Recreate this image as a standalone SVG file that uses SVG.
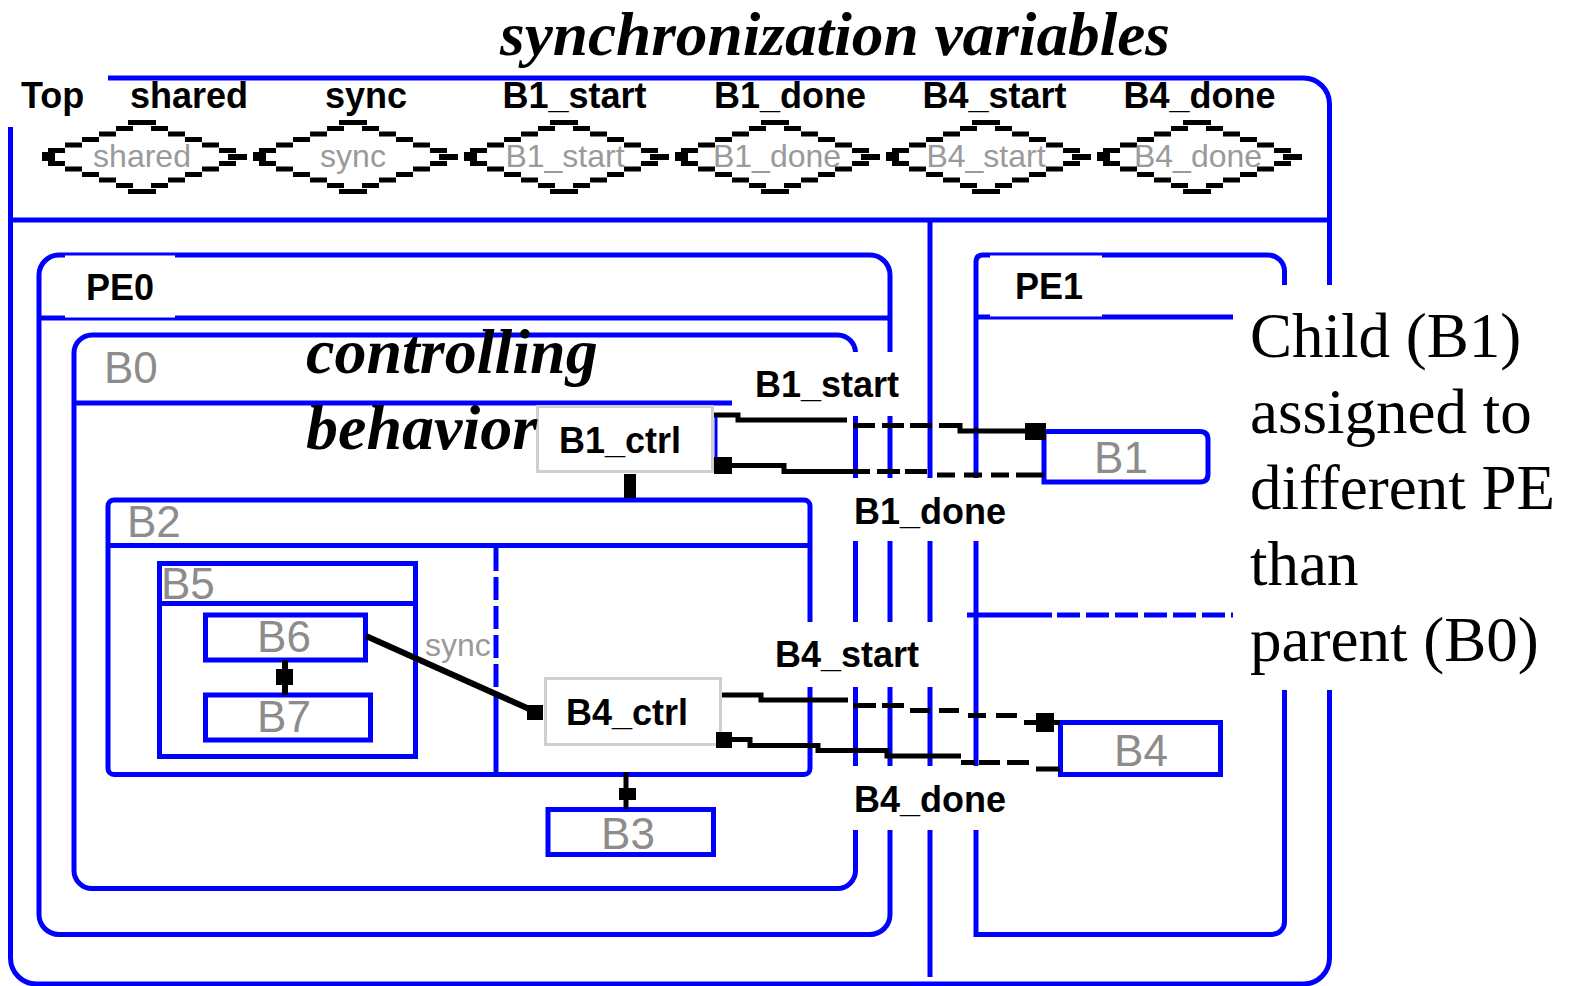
<svg xmlns="http://www.w3.org/2000/svg" width="1574" height="986" viewBox="0 0 1574 986">
<defs>
<style>
.frame{fill:none;stroke:#0000ff;stroke-width:5}
.dash{fill:none;stroke:#0000ff;stroke-width:5;stroke-dasharray:23 6}
.wire{fill:none;stroke:#000;stroke-width:5}
.thick{fill:none;stroke:#000;stroke-width:6}
.blob{fill:#000}
.ctrl{fill:#fff;stroke:#d0d0d0;stroke-width:3}
.bg{fill:#fff}
.lbl{font-family:"Liberation Sans",Arial,sans-serif;font-weight:bold;font-size:36px;fill:#000}
.gray{font-family:"Liberation Sans",Arial,sans-serif;font-size:44px;fill:#8c8c8c}
.vname{font-family:"Liberation Sans",Arial,sans-serif;font-size:32px;fill:#9a9a9a;text-anchor:middle}
.small{font-family:"Liberation Sans",Arial,sans-serif;font-size:32px;fill:#9a9a9a}
.note{font-family:"Liberation Serif","Times New Roman",serif;font-size:63px;fill:#000}
.emph{font-family:"Liberation Serif","Times New Roman",serif;font-weight:bold;font-style:italic;font-size:64px;fill:#000}
.title{font-family:"Liberation Serif","Times New Roman",serif;font-weight:bold;font-style:italic;font-size:61px;fill:#000}
.mid{text-anchor:middle}
</style>
<!-- shared variable symbol: stair-stepped diamond centred on 0,0 -->
<g id="syncvar">
<path class="wire" d="M-14,-34.5H14M-26,-28.5H-9M-43,-23H-26M-60,-17.5H-43M-77,-12H-60M-94,-6.5H-77M-94,6.5H-77M-77,12H-60M-60,17.5H-43M-43,23H-26M-26,28.5H-9M-14,34.5H14M9,-28.5H26M26,-23H43M43,-17.5H60M60,-12H77M77,-6.5H94M77,6.5H94M60,12H77M43,17.5H60M26,23H43M9,28.5H26"/>
<rect class="blob" x="-100" y="-5" width="13" height="9"/>
<rect class="blob" x="86" y="-3" width="19" height="6"/>
</g>
</defs>
<rect width="1574" height="986" fill="#fff"/>

<g id="title">
<text class="title" x="500" y="55" textLength="670" lengthAdjust="spacingAndGlyphs">synchronization variables</text>
</g>

<g id="Top">
<path class="frame" d="M10.5,127V958A26,26 0 0 0 36.5,984H1303.5A26,26 0 0 0 1329.5,958V104A26,26 0 0 0 1303.5,78H108"/>
<path class="frame" d="M10.5,220H1329.5M930,220V977"/>
<text class="lbl" x="21" y="108">Top</text>
</g>

<g id="variables">
<g id="var-shared"><use href="#syncvar" x="142" y="157"/><text class="vname" x="142" y="167">shared</text><text class="lbl mid" x="189" y="108">shared</text></g>
<g id="var-sync"><use href="#syncvar" x="353" y="157"/><text class="vname" x="353" y="167">sync</text><text class="lbl mid" x="366" y="108">sync</text></g>
<g id="var-B1_start"><use href="#syncvar" x="564" y="157"/><text class="vname" x="565" y="167">B1_start</text><text class="lbl mid" x="574.5" y="108">B1_start</text></g>
<g id="var-B1_done"><use href="#syncvar" x="775" y="157"/><text class="vname" x="777" y="167">B1_done</text><text class="lbl mid" x="790" y="108">B1_done</text></g>
<g id="var-B4_start"><use href="#syncvar" x="986" y="157"/><text class="vname" x="986" y="167">B4_start</text><text class="lbl mid" x="994.5" y="108">B4_start</text></g>
<g id="var-B4_done"><use href="#syncvar" x="1197" y="157"/><text class="vname" x="1198" y="167">B4_done</text><text class="lbl mid" x="1199.5" y="108">B4_done</text></g>
</g>

<g id="PE0">
<rect class="frame" x="39" y="255" width="851" height="679.5" rx="20"/>
<path class="frame" d="M39,318H890"/>
<rect class="bg" x="65" y="255.5" width="110" height="62"/>
<text class="lbl" x="86" y="300">PE0</text>
</g>

<g id="B0">
<rect class="frame" x="74" y="335" width="781.5" height="553.5" rx="18"/>
<path class="frame" d="M74,403H855.5"/>
<text class="gray" x="104" y="383">B0</text>
</g>

<g id="B2">
<rect class="frame" x="108" y="500" width="702" height="274.5" rx="6"/>
<path class="frame" d="M108,545.5H810M496,697V774.5"/>
<path class="dash" d="M496,548V697"/>
<text class="gray" x="127" y="537">B2</text>
</g>

<g id="B5">
<rect class="frame" x="159.5" y="563.5" width="256" height="193"/>
<path class="frame" d="M159.5,603.5H415.5"/>
<text class="gray" x="161" y="599">B5</text>
</g>

<g id="B6">
<rect class="frame" x="205.5" y="615" width="160" height="45"/>
<text class="gray mid" x="284" y="652">B6</text>
</g>

<g id="B7">
<rect class="frame" x="205.5" y="695" width="165" height="45"/>
<text class="gray mid" x="284" y="732">B7</text>
</g>

<g id="B3">
<rect class="frame" x="548" y="809.5" width="165.5" height="45"/>
<text class="gray mid" x="628" y="849">B3</text>
</g>

<g id="B1_ctrl">
<rect class="ctrl" x="537.5" y="406.5" width="175" height="65"/>
<path d="M716,417V463" stroke="#0000ff" stroke-width="3"/>
<text class="lbl" x="559" y="453">B1_ctrl</text>
</g>

<g id="B4_ctrl">
<rect class="ctrl" x="545.5" y="678.5" width="175" height="66"/>
<text class="lbl" x="566" y="725">B4_ctrl</text>
</g>

<g id="PE1">
<path class="frame" d="M976,934.5V262Q976,255 983,255H1268A16.5,16.5 0 0 1 1284.5,271.5V922A12.5,12.5 0 0 1 1272,934.5Z"/>
<path class="frame" d="M976,317H1233M967,615H1052"/>
<path class="dash" d="M1057,615H1233"/>
<rect class="bg" x="990" y="255.5" width="112" height="61"/>
<text class="lbl" x="1015" y="299">PE1</text>
</g>

<g id="B1">
<path class="frame" d="M1044,431.5H1200Q1208,431.5 1208,439.5V474Q1208,482 1200,482H1044Z"/>
<text class="gray mid" x="1121" y="473">B1</text>
</g>

<g id="B4">
<rect class="frame" x="1060.5" y="722.5" width="160" height="52"/>
<text class="gray mid" x="1141" y="766">B4</text>
</g>

<g id="annotations">
<text class="emph" x="306" y="373">controlling</text>
<text class="emph" x="306" y="449">behavior</text>
<rect class="bg" x="1233" y="285" width="341" height="405"/>
<text class="note" x="1250" y="357">Child (B1)</text>
<text class="note" x="1250" y="433">assigned to</text>
<text class="note" x="1250" y="509">different PE</text>
<text class="note" x="1250" y="585">than</text>
<text class="note" x="1250" y="661">parent (B0)</text>
</g>

<g id="edge-labels">
<rect class="bg" x="732" y="352" width="189" height="64"/>
<text class="lbl" x="755" y="397">B1_start</text>
<rect class="bg" x="848" y="478" width="181" height="63"/>
<text class="lbl" x="854" y="524">B1_done</text>
<rect class="bg" x="768" y="622" width="194" height="65"/>
<text class="lbl" x="775" y="667">B4_start</text>
<rect class="bg" x="848" y="766" width="181" height="64"/>
<text class="lbl" x="854" y="812">B4_done</text>
<text class="small" x="425" y="656">sync</text>
</g>

<g id="connectors">
<!-- B1_ctrl to B2 -->
<rect class="blob" x="624" y="474" width="12" height="24"/>
<!-- B1_start: B1_ctrl to B1 -->
<path class="wire" d="M714,415H738V420H847"/>
<path class="wire" d="M853,425.5H875M882,425.5H904M910,425.5H932M939,425.5H960V431H1046"/>
<rect class="blob" x="1025" y="423" width="21" height="17"/>
<!-- B1_done: B1 to B1_ctrl -->
<rect class="blob" x="714" y="457" width="18" height="17"/>
<path class="wire" d="M732,465.5H784V471.5H870M877,471.5H900M905,471.5H927M937,475H955M964,475H982M991,475H1009M1016,475H1044"/>
<!-- B4_start: B4_ctrl to B4 -->
<path class="wire" d="M722,695H761V700H848M853,705.5H876M882,705.5H904M910,710.5H930M939,710.5H959M968,715.5H986M996,715.5H1017M1024,722.5H1060"/>
<rect class="blob" x="1036" y="713" width="18" height="19"/>
<!-- B4_done: B4 to B4_ctrl -->
<rect class="blob" x="716" y="732" width="16" height="16"/>
<path class="wire" d="M732,739.5H750V745.5H818V750.5H887V756H961M961,762.5H975M979,762.5H1000M1007,762.5H1029M1036,769H1060"/>
<!-- sync: B6 to B4_ctrl -->
<path class="thick" d="M366,636L536,712"/>
<rect class="blob" x="527" y="705" width="16" height="15"/>
<!-- B6 to B7 -->
<path class="thick" d="M285,660V695"/>
<rect class="blob" x="276" y="669" width="17" height="16"/>
<!-- B4_ctrl to B3 -->
<path class="wire" d="M626,772V809"/>
<rect class="blob" x="619" y="788" width="17" height="12"/>
</g>
</svg>
